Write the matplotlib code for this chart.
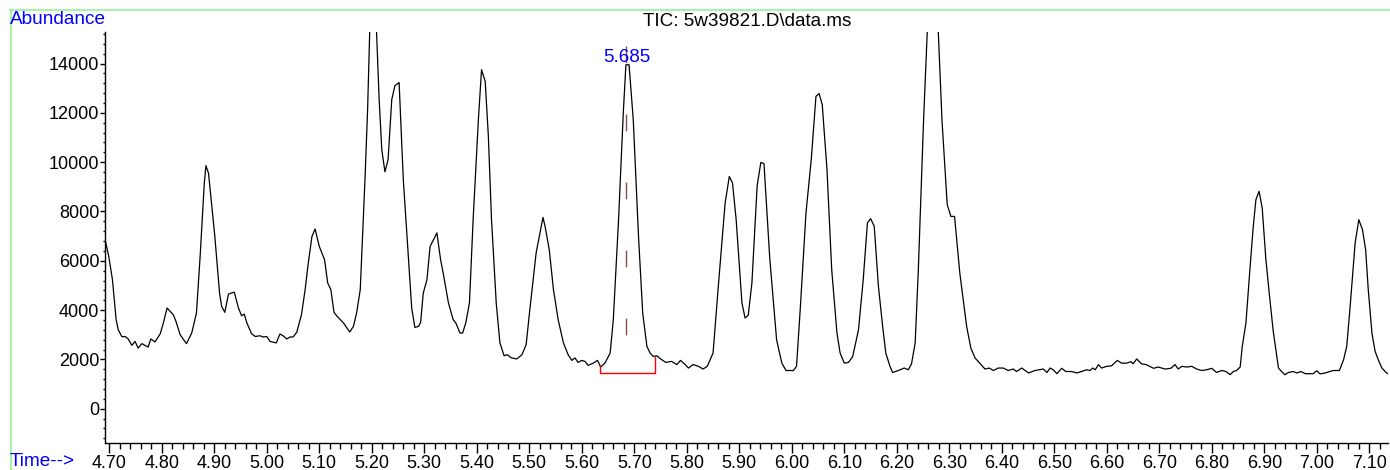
import matplotlib
matplotlib.use("Agg")
import matplotlib.pyplot as plt
from matplotlib.lines import Line2D
from matplotlib.ticker import MultipleLocator, FixedLocator

plt.rcParams['font.family'] = ['Liberation Sans', 'DejaVu Sans']

# TIC trace, retention time (min) and abundance
time = [4.692, 4.699, 4.706, 4.713, 4.717, 4.724, 4.730, 4.736, 4.743, 4.749,
        4.755, 4.762, 4.774, 4.779, 4.787, 4.797, 4.803, 4.810, 4.822, 4.827,
        4.835, 4.847, 4.857, 4.866, 4.873, 4.881, 4.884, 4.889, 4.901, 4.910,
        4.914, 4.920, 4.927, 4.938, 4.946, 4.952, 4.957, 4.962, 4.971, 4.978,
        4.987, 4.993, 5.000, 5.006, 5.018, 5.025, 5.031, 5.038, 5.044, 5.050,
        5.057, 5.066, 5.073, 5.079, 5.086, 5.092, 5.100, 5.110, 5.116, 5.122,
        5.128, 5.134, 5.146, 5.158, 5.165, 5.171, 5.178, 5.183, 5.187, 5.192,
        5.196, 5.202, 5.209, 5.214, 5.219, 5.225, 5.231, 5.238, 5.244, 5.252,
        5.260, 5.265, 5.276, 5.282, 5.289, 5.293, 5.298, 5.305, 5.311, 5.324,
        5.331, 5.336, 5.346, 5.355, 5.360, 5.368, 5.373, 5.379, 5.386, 5.393,
        5.403, 5.409, 5.416, 5.422, 5.428, 5.437, 5.444, 5.452, 5.458, 5.466,
        5.476, 5.486, 5.494, 5.501, 5.513, 5.526, 5.530, 5.538, 5.546, 5.555,
        5.565, 5.574, 5.581, 5.587, 5.593, 5.600, 5.606, 5.612, 5.622, 5.630,
        5.636, 5.644, 5.654, 5.660, 5.670, 5.679, 5.684, 5.690, 5.698, 5.708,
        5.716, 5.724, 5.730, 5.736, 5.743, 5.750, 5.760, 5.771, 5.781, 5.788,
        5.797, 5.803, 5.812, 5.822, 5.831, 5.839, 5.850, 5.860, 5.873, 5.881,
        5.887, 5.894, 5.905, 5.911, 5.917, 5.924, 5.934, 5.941, 5.947, 5.958,
        5.971, 5.981, 5.989, 6.003, 6.009, 6.016, 6.027, 6.037, 6.046, 6.052,
        6.058, 6.067, 6.076, 6.086, 6.092, 6.100, 6.108, 6.116, 6.127, 6.136,
        6.144, 6.150, 6.157, 6.165, 6.173, 6.179, 6.187, 6.192, 6.203, 6.214,
        6.222, 6.228, 6.235, 6.241, 6.251, 6.258, 6.269, 6.279, 6.286, 6.296,
        6.303, 6.310, 6.320, 6.333, 6.341, 6.349, 6.359, 6.368, 6.376, 6.384,
        6.393, 6.403, 6.412, 6.422, 6.428, 6.438, 6.451, 6.463, 6.479, 6.486,
        6.492, 6.498, 6.505, 6.514, 6.522, 6.533, 6.543, 6.552, 6.562, 6.568,
        6.573, 6.578, 6.584, 6.590, 6.600, 6.609, 6.620, 6.628, 6.638, 6.646,
        6.650, 6.657, 6.666, 6.675, 6.689, 6.698, 6.711, 6.722, 6.730, 6.736,
        6.743, 6.752, 6.762, 6.771, 6.781, 6.790, 6.800, 6.809, 6.819, 6.827,
        6.835, 6.841, 6.847, 6.854, 6.858, 6.865, 6.873, 6.879, 6.884, 6.890,
        6.896, 6.903, 6.910, 6.917, 6.927, 6.933, 6.939, 6.946, 6.955, 6.962,
        6.970, 6.978, 6.993, 7.000, 7.006, 7.016, 7.025, 7.031, 7.043, 7.051,
        7.057, 7.063, 7.073, 7.080, 7.087, 7.093, 7.098, 7.105, 7.111, 7.117,
        7.124, 7.132, 7.138]

abundance = [6850, 6180, 5230, 3610, 3205, 2920, 2930, 2830, 2570, 2730,
             2460, 2640, 2500, 2830, 2710, 3040, 3480, 4085, 3810, 3540,
             3000, 2640, 3070, 3880, 6180, 9160, 9860, 9550, 6990, 4690,
             4150, 3910, 4650, 4730, 4085, 3770, 3840, 3480, 3040, 2930,
             2960, 2910, 2930, 2730, 2670, 3030, 2960, 2830, 2910, 2910,
             3100, 3810, 4830, 5910, 6990, 7290, 6580, 6045, 5100, 4830,
             3910, 3745, 3480, 3110, 3340, 3880, 4830, 7260, 9290, 12130,
             15290, 18500, 15290, 12540, 10510, 9610, 10100, 12540, 13100, 13230,
             9290, 7670, 4085, 3300, 3340, 3500, 4690, 5230, 6580, 7130,
             6045, 5500, 4290, 3610, 3480, 3070, 3070, 3480, 4290, 7670,
             11720, 13750, 13280, 11050, 7670, 4290, 2670, 2150, 2190, 2060,
             2020, 2190, 2600, 4020, 6320, 7760, 7400, 6450, 4830, 3610,
             2670, 2190, 1960, 2060, 1880, 1960, 1920, 1760, 1850, 1960,
             1690, 1850, 2260, 3610, 7670, 12000, 13950, 13950, 11720, 6990,
             3880, 2530, 2260, 2120, 2150, 2020, 1880, 1920, 1790, 1960,
             1790, 1650, 1790, 1720, 1610, 1720, 2260, 4960, 8350, 9420,
             9160, 7670, 4290, 3680, 3790, 5100, 9050, 9990, 9940, 6100,
             2800, 1850, 1550, 1550, 1720, 4020, 7940, 10100, 12670, 12780,
             12330, 9700, 5640, 3070, 2260, 1850, 1880, 2120, 3200, 5230,
             7530, 7710, 7400, 4960, 3340, 2260, 1720, 1470, 1550, 1650,
             1580, 1820, 2670, 5640, 11720, 15290, 19000, 15290, 11720, 8280,
             7800, 7800, 5500, 3340, 2460, 2060, 1820, 1610, 1650, 1550,
             1650, 1650, 1550, 1610, 1510, 1650, 1450, 1550, 1610, 1470,
             1650, 1580, 1420, 1640, 1510, 1510, 1450, 1510, 1580, 1550,
             1650, 1580, 1790, 1650, 1720, 1740, 1960, 1850, 1850, 1910,
             1820, 2020, 1820, 1790, 1640, 1690, 1610, 1640, 1790, 1610,
             1720, 1690, 1720, 1610, 1550, 1580, 1640, 1470, 1550, 1510,
             1380, 1510, 1550, 1690, 2530, 3480, 5770, 7400, 8480, 8820,
             8140, 6050, 4560, 3140, 1650, 1510, 1380, 1470, 1510, 1450,
             1510, 1420, 1420, 1540, 1410, 1450, 1510, 1550, 1550, 1990,
             2530, 4020, 6720, 7670, 7260, 6450, 4830, 3070, 2330, 1990,
             1650, 1470, 1380]

# integrated peak
peak_rt = 5.685
peak_start, peak_end = 5.635, 5.740
start_level, end_level, base_level = 1720, 2110, 1460
marker_top, marker_bottom = 14700, 1700

fig = plt.figure(figsize=(13.9, 4.7), dpi=100)
ax = fig.add_axes([105 / 1390, 1 - 443 / 470, 1283 / 1390, 411 / 470])

ax.plot(time, abundance, color='black', linewidth=0.9)

# baseline of the integrated peak and retention-time marker
ax.plot([peak_start, peak_start, peak_end, peak_end],
        [start_level, base_level, base_level, end_level],
        color='red', linewidth=1.0)
ax.plot([peak_rt, peak_rt], [marker_top, marker_bottom], color='#8b4a4a',
        linewidth=1.0, dashes=(12, 37))
ax.text(peak_rt, 14080, f'{peak_rt:.3f}', color='blue', fontsize=13.5,
        ha='center', va='baseline')

ax.set_xlim(4.6918, 7.1356)

ax.xaxis.set_major_locator(FixedLocator([4.7 + 0.1 * i for i in range(25)]))
ax.xaxis.set_minor_locator(MultipleLocator(0.02))
ax.xaxis.set_major_formatter(plt.FuncFormatter(lambda v, p: f'{v:.2f}'))
ax.yaxis.set_major_locator(MultipleLocator(2000))
ax.yaxis.set_minor_locator(MultipleLocator(400))
ax.set_yticks(range(0, 16000, 2000))
ax.set_ylim(-1390, 15280)

ax.tick_params(axis='x', which='major', length=7, width=1, pad=1.5, labelsize=13)
ax.tick_params(axis='x', which='minor', length=4.3, width=1)
ax.tick_params(axis='y', which='major', length=3.6, width=1, pad=0.5, labelsize=13)
ax.tick_params(axis='y', which='minor', length=1.5, width=1)

for side in ['top', 'right']:
    ax.spines[side].set_visible(False)
for side in ['left', 'bottom']:
    ax.spines[side].set_linewidth(1.0)

# frame and captions
fig.add_artist(Line2D([10 / 1390, 1.0], [1 - 10 / 470, 1 - 10 / 470],
                      color='#98f098', linewidth=1.2))
fig.add_artist(Line2D([10.5 / 1390, 10.5 / 1390], [0.0, 1 - 10 / 470],
                      color='#98f098', linewidth=1.2))
fig.text(10 / 1390, 1 - 20 / 470, 'Abundance', color='blue', fontsize=13.7,
         ha='left', va='center')
fig.text(10 / 1390, 1 - 462 / 470, 'Time-->', color='blue', fontsize=13.7,
         ha='left', va='center')
fig.text(643 / 1390, 1 - 21 / 470, 'TIC: 5w39821.D\\data.ms', color='black',
         fontsize=13.6, ha='left', va='center')

fig.savefig('out.png', dpi=100)
